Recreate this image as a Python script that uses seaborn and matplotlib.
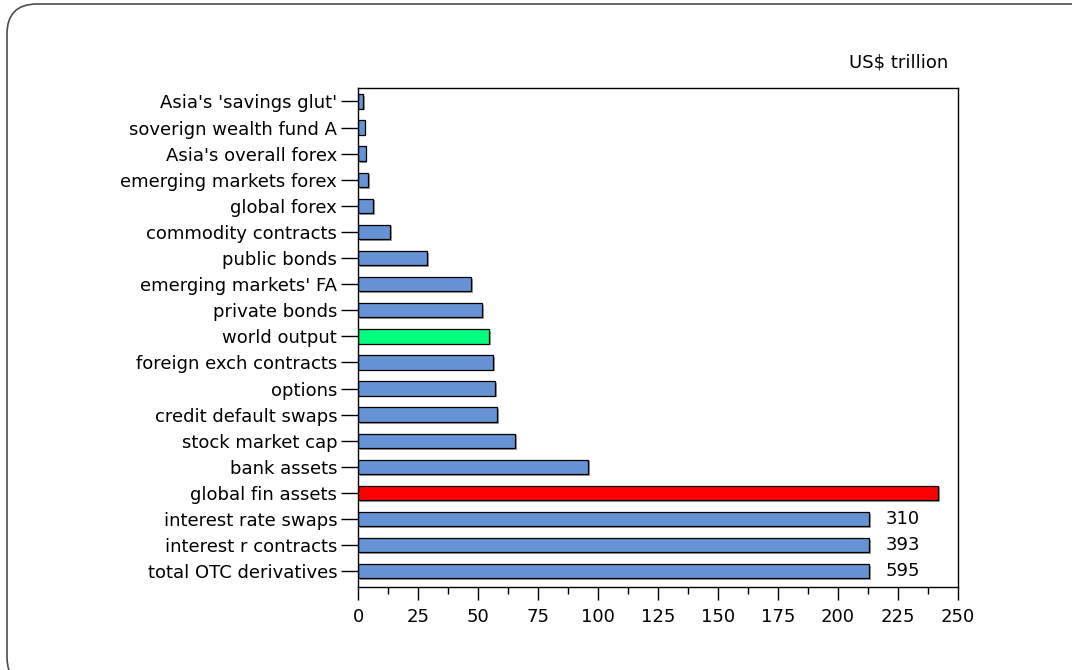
import numpy as np
import pandas as pd
import matplotlib
matplotlib.use("Agg")
import matplotlib.pyplot as plt
import matplotlib.patheffects as pe
from matplotlib.patches import FancyBboxPatch
from matplotlib.ticker import MultipleLocator
import seaborn as sns

# data, top to bottom as drawn
categories = ["Asia's 'savings glut'", "soverign wealth fund A", "Asia's overall forex",
              "emerging markets forex", "global forex", "commodity contracts",
              "public bonds", "emerging markets' FA", "private bonds", "world output",
              "foreign exch contracts", "options", "credit default swaps",
              "stock market cap", "bank assets", "global fin assets",
              "interest rate swaps", "interest r contracts", "total OTC derivatives"]
values = [2.1, 2.7, 3.2, 4.2, 6.4, 13.3, 28.8, 47.2, 51.8, 54.6,
          56.4, 57.2, 58.0, 65.4, 96.0, 241.8, 213, 213, 213]
# bars that run off the scale carry their real value as a label
offscale = {"interest rate swaps": "310", "interest r contracts": "393",
            "total OTC derivatives": "595"}

blue = "#6593d6"
colors = [blue] * len(categories)
colors[categories.index("world output")] = "#00ff7f"
colors[categories.index("global fin assets")] = "#ff0000"

sns.set_style("white")
plt.rcParams["font.family"] = ["DejaVu Sans"]
plt.rcParams["text.color"] = "black"
plt.rcParams["xtick.color"] = "black"
plt.rcParams["ytick.color"] = "black"

df = pd.DataFrame({"item": categories, "value": values})

fig = plt.figure(figsize=(10.72, 6.7), dpi=100)
ax = fig.add_axes([0.334, 0.124, 0.5597, 0.7448])

sns.barplot(data=df, x="value", y="item", hue="item", palette=colors,
            legend=False, orient="h", width=0.55, edgecolor="black",
            linewidth=0.9, ax=ax, saturation=1)

for p in ax.patches:
    p.set_path_effects([pe.SimplePatchShadow(offset=(1.2, -1.2), shadow_rgbFace="0.45", alpha=0.7),
                        pe.Normal()])

for i, name in enumerate(categories):
    if name in offscale:
        ax.text(227, i, offscale[name], va="center", ha="center", fontsize=13)

ax.set_xlim(0, 250)
ax.set_ylim(len(categories) - 0.4, -0.52)
ax.xaxis.set_major_locator(MultipleLocator(25))
ax.xaxis.set_minor_locator(MultipleLocator(12.5))
ax.tick_params(axis="x", which="major", direction="out", length=9, width=1,
               labelsize=13, pad=6, bottom=True)
ax.tick_params(axis="x", which="minor", direction="out", length=5, width=1, bottom=True)
ax.tick_params(axis="y", direction="out", length=12, width=1, labelsize=13, pad=3, left=True)
ax.set_xlabel("")
ax.set_ylabel("")
for s in ax.spines.values():
    s.set_visible(True)
    s.set_color("black")
    s.set_linewidth(1)

fig.text(0.885, 0.907, "US$ trillion", ha="right", va="center", fontsize=13)

# rounded frame, partly running off the bottom and right edges
frame = FancyBboxPatch((0.07, -0.17), 11.0, 6.83, boxstyle="round,pad=0,rounding_size=0.3",
                       transform=fig.dpi_scale_trans, fill=False, edgecolor="0.3",
                       linewidth=1.2)
fig.patches.append(frame)

fig.savefig("out.png", dpi=100)
